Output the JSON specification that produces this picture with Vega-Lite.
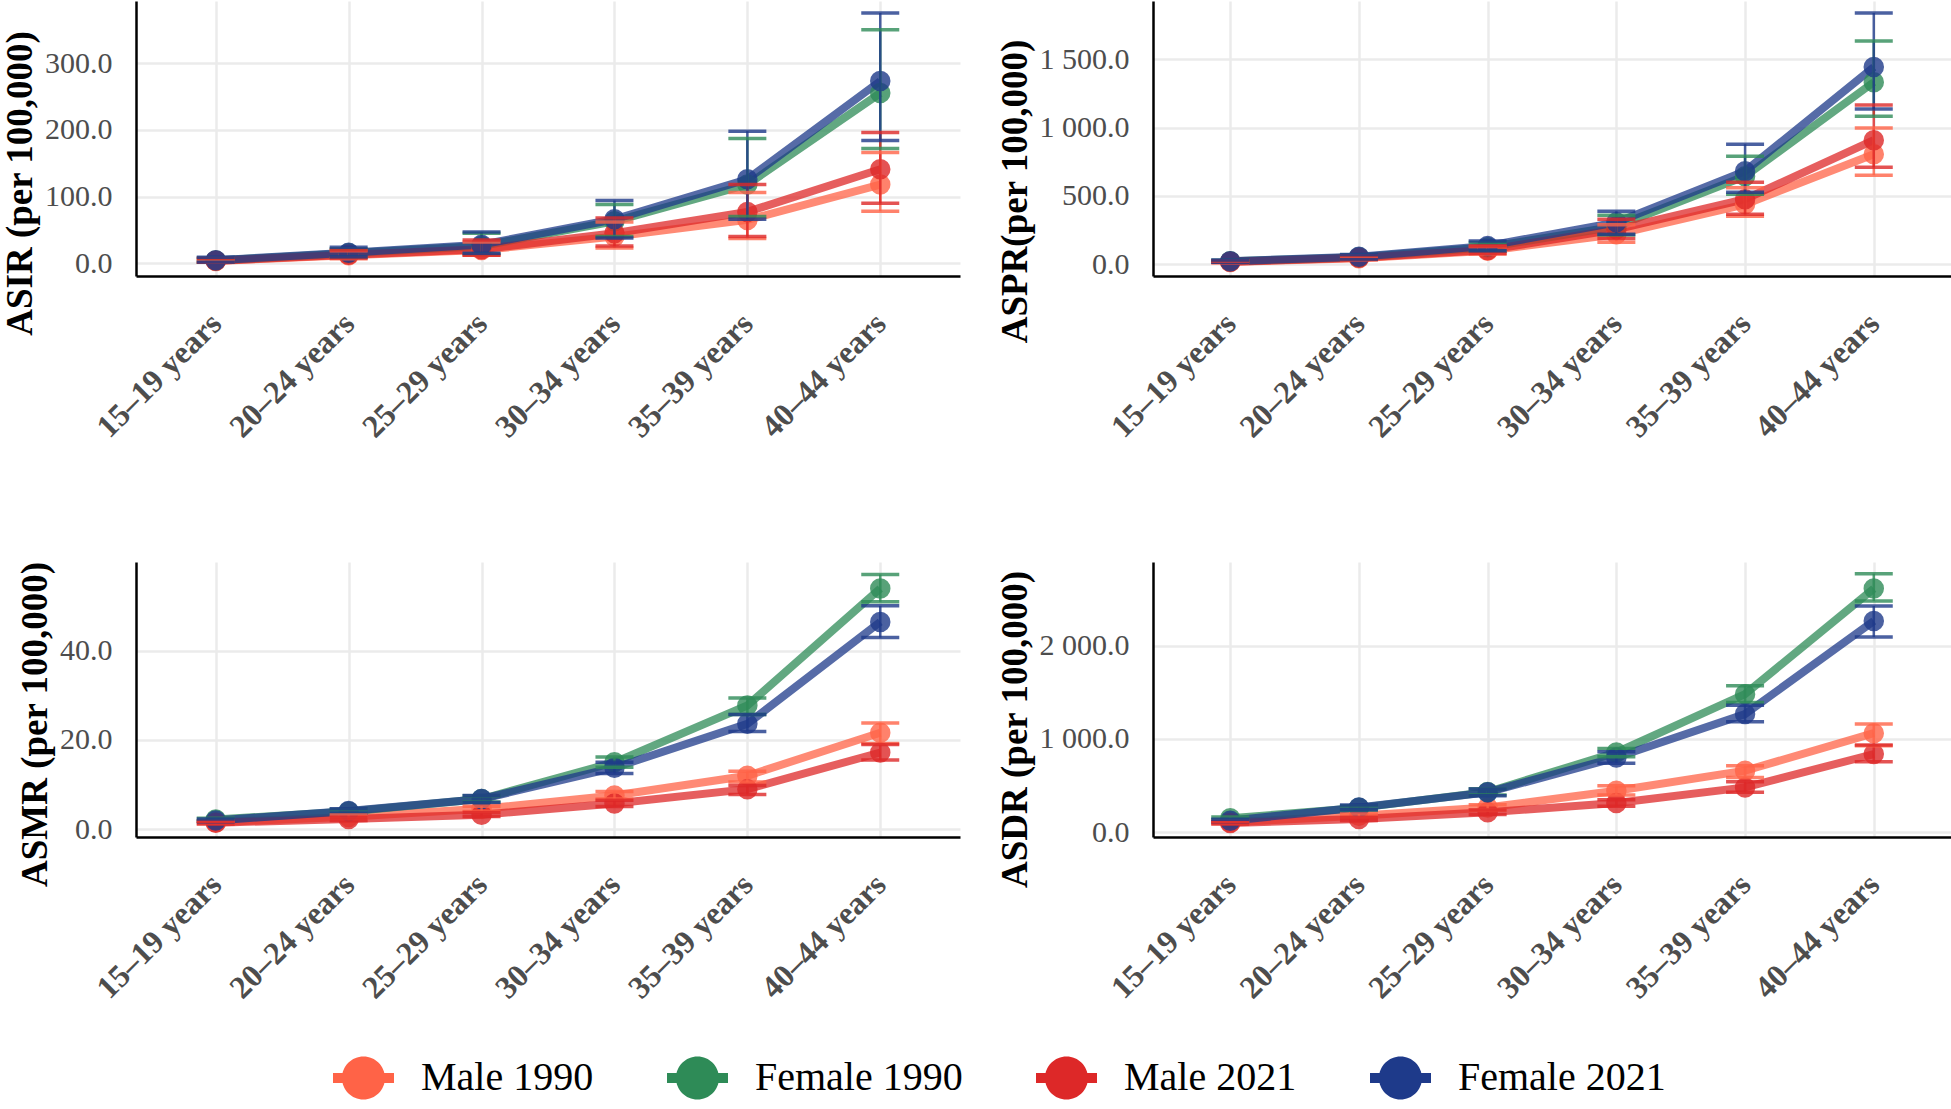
{
  "$schema": "https://vega.github.io/schema/vega-lite/v6.json",
  "padding": {"left": 1, "top": 1, "right": 0, "bottom": 0},
  "autosize": {"type": "pad"},
  "background": "white",
  "config": {
    "font": "Liberation Serif",
    "view": {"stroke": null},
    "locale": {"number": {"decimal": ".", "thousands": " ", "grouping": [3], "currency": ["", ""]}},
    "axis": {
      "grid": true, "gridColor": "#ebebeb", "gridWidth": 2.5,
      "ticks": false,
      "domainColor": "black", "domainWidth": 2.5,
      "labelFont": "Liberation Serif", "labelColor": "#4d4d4d",
      "titleFont": "Liberation Serif", "titleColor": "black"
    },
    "axisX": {
      "labelAngle": -45, "labelAlign": "right", "labelBaseline": "middle",
      "labelFontWeight": "bold", "labelFontSize": 32, "labelPadding": 42
    },
    "axisY": {
      "labelFontSize": 30, "labelPadding": 24,
      "titleFontSize": 37, "titleFontWeight": "bold", "titlePadding": 5
    },
    "legend": {
      "labelLimit": 0
    }
  },
  "data": {"values": [
    {"m": "ASIR", "age": "15–19 years", "g": "Male 1990", "v": 3.5, "lo": 1.5, "hi": 7},
    {"m": "ASIR", "age": "20–24 years", "g": "Male 1990", "v": 12, "lo": 7, "hi": 19},
    {"m": "ASIR", "age": "25–29 years", "g": "Male 1990", "v": 20, "lo": 12, "hi": 32},
    {"m": "ASIR", "age": "30–34 years", "g": "Male 1990", "v": 40, "lo": 23, "hi": 62},
    {"m": "ASIR", "age": "35–39 years", "g": "Male 1990", "v": 65, "lo": 37, "hi": 106},
    {"m": "ASIR", "age": "40–44 years", "g": "Male 1990", "v": 118, "lo": 78, "hi": 166},
    {"m": "ASIR", "age": "15–19 years", "g": "Female 1990", "v": 4.2, "lo": 1.8, "hi": 8},
    {"m": "ASIR", "age": "20–24 years", "g": "Female 1990", "v": 15, "lo": 9, "hi": 22},
    {"m": "ASIR", "age": "25–29 years", "g": "Female 1990", "v": 26, "lo": 14, "hi": 45},
    {"m": "ASIR", "age": "30–34 years", "g": "Female 1990", "v": 63, "lo": 40, "hi": 88},
    {"m": "ASIR", "age": "35–39 years", "g": "Female 1990", "v": 118, "lo": 70, "hi": 187},
    {"m": "ASIR", "age": "40–44 years", "g": "Female 1990", "v": 255, "lo": 172, "hi": 350},
    {"m": "ASIR", "age": "15–19 years", "g": "Male 2021", "v": 3.8, "lo": 1.6, "hi": 7.5},
    {"m": "ASIR", "age": "20–24 years", "g": "Male 2021", "v": 13, "lo": 8, "hi": 20},
    {"m": "ASIR", "age": "25–29 years", "g": "Male 2021", "v": 21, "lo": 12, "hi": 35},
    {"m": "ASIR", "age": "30–34 years", "g": "Male 2021", "v": 45, "lo": 26, "hi": 68},
    {"m": "ASIR", "age": "35–39 years", "g": "Male 2021", "v": 77, "lo": 40, "hi": 118},
    {"m": "ASIR", "age": "40–44 years", "g": "Male 2021", "v": 141, "lo": 90, "hi": 196},
    {"m": "ASIR", "age": "15–19 years", "g": "Female 2021", "v": 4.5, "lo": 2, "hi": 9},
    {"m": "ASIR", "age": "20–24 years", "g": "Female 2021", "v": 16, "lo": 10, "hi": 24},
    {"m": "ASIR", "age": "25–29 years", "g": "Female 2021", "v": 28, "lo": 15, "hi": 47},
    {"m": "ASIR", "age": "30–34 years", "g": "Female 2021", "v": 66, "lo": 38, "hi": 94},
    {"m": "ASIR", "age": "35–39 years", "g": "Female 2021", "v": 126, "lo": 66, "hi": 198},
    {"m": "ASIR", "age": "40–44 years", "g": "Female 2021", "v": 273, "lo": 184, "hi": 375},

    {"m": "ASPR", "age": "15–19 years", "g": "Male 1990", "v": 18, "lo": 12, "hi": 26},
    {"m": "ASPR", "age": "20–24 years", "g": "Male 1990", "v": 45, "lo": 33, "hi": 60},
    {"m": "ASPR", "age": "25–29 years", "g": "Male 1990", "v": 100, "lo": 75, "hi": 130},
    {"m": "ASPR", "age": "30–34 years", "g": "Male 1990", "v": 220, "lo": 161, "hi": 290},
    {"m": "ASPR", "age": "35–39 years", "g": "Male 1990", "v": 439, "lo": 351, "hi": 560},
    {"m": "ASPR", "age": "40–44 years", "g": "Male 1990", "v": 805, "lo": 652, "hi": 996},
    {"m": "ASPR", "age": "15–19 years", "g": "Female 1990", "v": 22, "lo": 15, "hi": 30},
    {"m": "ASPR", "age": "20–24 years", "g": "Female 1990", "v": 52, "lo": 38, "hi": 68},
    {"m": "ASPR", "age": "25–29 years", "g": "Female 1990", "v": 125, "lo": 95, "hi": 160},
    {"m": "ASPR", "age": "30–34 years", "g": "Female 1990", "v": 278, "lo": 215, "hi": 359},
    {"m": "ASPR", "age": "35–39 years", "g": "Female 1990", "v": 644, "lo": 512, "hi": 790},
    {"m": "ASPR", "age": "40–44 years", "g": "Female 1990", "v": 1332, "lo": 1083, "hi": 1632},
    {"m": "ASPR", "age": "15–19 years", "g": "Male 2021", "v": 19, "lo": 13, "hi": 27},
    {"m": "ASPR", "age": "20–24 years", "g": "Male 2021", "v": 48, "lo": 35, "hi": 63},
    {"m": "ASPR", "age": "25–29 years", "g": "Male 2021", "v": 105, "lo": 80, "hi": 135},
    {"m": "ASPR", "age": "30–34 years", "g": "Male 2021", "v": 256, "lo": 190, "hi": 330},
    {"m": "ASPR", "age": "35–39 years", "g": "Male 2021", "v": 476, "lo": 366, "hi": 600},
    {"m": "ASPR", "age": "40–44 years", "g": "Male 2021", "v": 908, "lo": 710, "hi": 1164},
    {"m": "ASPR", "age": "15–19 years", "g": "Female 2021", "v": 23, "lo": 16, "hi": 32},
    {"m": "ASPR", "age": "20–24 years", "g": "Female 2021", "v": 55, "lo": 40, "hi": 72},
    {"m": "ASPR", "age": "25–29 years", "g": "Female 2021", "v": 135, "lo": 100, "hi": 170},
    {"m": "ASPR", "age": "30–34 years", "g": "Female 2021", "v": 307, "lo": 220, "hi": 388},
    {"m": "ASPR", "age": "35–39 years", "g": "Female 2021", "v": 681, "lo": 527, "hi": 878},
    {"m": "ASPR", "age": "40–44 years", "g": "Female 2021", "v": 1442, "lo": 1135, "hi": 1837},

    {"m": "ASMR", "age": "15–19 years", "g": "Male 1990", "v": 1.6, "lo": 1.3, "hi": 1.9},
    {"m": "ASMR", "age": "20–24 years", "g": "Male 1990", "v": 2.8, "lo": 2.4, "hi": 3.2},
    {"m": "ASMR", "age": "25–29 years", "g": "Male 1990", "v": 4.6, "lo": 4.0, "hi": 5.2},
    {"m": "ASMR", "age": "30–34 years", "g": "Male 1990", "v": 7.6, "lo": 6.8, "hi": 8.5},
    {"m": "ASMR", "age": "35–39 years", "g": "Male 1990", "v": 12.0, "lo": 10.6, "hi": 13.0},
    {"m": "ASMR", "age": "40–44 years", "g": "Male 1990", "v": 21.6, "lo": 19.2, "hi": 23.8},
    {"m": "ASMR", "age": "15–19 years", "g": "Female 1990", "v": 2.2, "lo": 1.9, "hi": 2.5},
    {"m": "ASMR", "age": "20–24 years", "g": "Female 1990", "v": 4.0, "lo": 3.6, "hi": 4.5},
    {"m": "ASMR", "age": "25–29 years", "g": "Female 1990", "v": 6.8, "lo": 6.1, "hi": 7.5},
    {"m": "ASMR", "age": "30–34 years", "g": "Female 1990", "v": 15.0, "lo": 13.9, "hi": 16.2},
    {"m": "ASMR", "age": "35–39 years", "g": "Female 1990", "v": 27.7, "lo": 25.7, "hi": 29.4},
    {"m": "ASMR", "age": "40–44 years", "g": "Female 1990", "v": 53.9, "lo": 50.9, "hi": 57.0},
    {"m": "ASMR", "age": "15–19 years", "g": "Male 2021", "v": 1.5, "lo": 1.2, "hi": 1.8},
    {"m": "ASMR", "age": "20–24 years", "g": "Male 2021", "v": 2.3, "lo": 2.0, "hi": 2.7},
    {"m": "ASMR", "age": "25–29 years", "g": "Male 2021", "v": 3.3, "lo": 2.9, "hi": 3.8},
    {"m": "ASMR", "age": "30–34 years", "g": "Male 2021", "v": 5.8, "lo": 5.1, "hi": 6.5},
    {"m": "ASMR", "age": "35–39 years", "g": "Male 2021", "v": 9.0, "lo": 7.8, "hi": 9.8},
    {"m": "ASMR", "age": "40–44 years", "g": "Male 2021", "v": 17.2, "lo": 15.5, "hi": 19.0},
    {"m": "ASMR", "age": "15–19 years", "g": "Female 2021", "v": 2.0, "lo": 1.7, "hi": 2.3},
    {"m": "ASMR", "age": "20–24 years", "g": "Female 2021", "v": 4.1, "lo": 3.6, "hi": 4.6},
    {"m": "ASMR", "age": "25–29 years", "g": "Female 2021", "v": 6.8, "lo": 6.0, "hi": 7.6},
    {"m": "ASMR", "age": "30–34 years", "g": "Female 2021", "v": 13.8, "lo": 12.5, "hi": 15.0},
    {"m": "ASMR", "age": "35–39 years", "g": "Female 2021", "v": 23.6, "lo": 21.9, "hi": 25.7},
    {"m": "ASMR", "age": "40–44 years", "g": "Female 2021", "v": 46.4, "lo": 42.9, "hi": 50.0},

    {"m": "ASDR", "age": "15–19 years", "g": "Male 1990", "v": 107, "lo": 95, "hi": 120},
    {"m": "ASDR", "age": "20–24 years", "g": "Male 1990", "v": 178, "lo": 160, "hi": 197},
    {"m": "ASDR", "age": "25–29 years", "g": "Male 1990", "v": 267, "lo": 240, "hi": 296},
    {"m": "ASDR", "age": "30–34 years", "g": "Male 1990", "v": 446, "lo": 400, "hi": 499},
    {"m": "ASDR", "age": "35–39 years", "g": "Male 1990", "v": 660, "lo": 588, "hi": 713},
    {"m": "ASDR", "age": "40–44 years", "g": "Male 1990", "v": 1062, "lo": 927, "hi": 1159},
    {"m": "ASDR", "age": "15–19 years", "g": "Female 1990", "v": 150, "lo": 135, "hi": 165},
    {"m": "ASDR", "age": "20–24 years", "g": "Female 1990", "v": 262, "lo": 240, "hi": 285},
    {"m": "ASDR", "age": "25–29 years", "g": "Female 1990", "v": 432, "lo": 400, "hi": 466},
    {"m": "ASDR", "age": "30–34 years", "g": "Female 1990", "v": 856, "lo": 810, "hi": 898},
    {"m": "ASDR", "age": "35–39 years", "g": "Female 1990", "v": 1480, "lo": 1390, "hi": 1569},
    {"m": "ASDR", "age": "40–44 years", "g": "Female 1990", "v": 2610, "lo": 2478, "hi": 2770},
    {"m": "ASDR", "age": "15–19 years", "g": "Male 2021", "v": 100, "lo": 88, "hi": 112},
    {"m": "ASDR", "age": "20–24 years", "g": "Male 2021", "v": 143, "lo": 128, "hi": 160},
    {"m": "ASDR", "age": "25–29 years", "g": "Male 2021", "v": 214, "lo": 192, "hi": 238},
    {"m": "ASDR", "age": "30–34 years", "g": "Male 2021", "v": 314, "lo": 280, "hi": 350},
    {"m": "ASDR", "age": "35–39 years", "g": "Male 2021", "v": 481, "lo": 428, "hi": 542},
    {"m": "ASDR", "age": "40–44 years", "g": "Male 2021", "v": 838, "lo": 756, "hi": 934},
    {"m": "ASDR", "age": "15–19 years", "g": "Female 2021", "v": 125, "lo": 112, "hi": 140},
    {"m": "ASDR", "age": "20–24 years", "g": "Female 2021", "v": 267, "lo": 243, "hi": 292},
    {"m": "ASDR", "age": "25–29 years", "g": "Female 2021", "v": 428, "lo": 392, "hi": 465},
    {"m": "ASDR", "age": "30–34 years", "g": "Female 2021", "v": 802, "lo": 741, "hi": 862},
    {"m": "ASDR", "age": "35–39 years", "g": "Female 2021", "v": 1266, "lo": 1184, "hi": 1362},
    {"m": "ASDR", "age": "40–44 years", "g": "Female 2021", "v": 2264, "lo": 2093, "hi": 2424}
  ]},
  "columns": 2,
  "bounds": "flush",
  "spacing": {"row": 286, "column": 193},
  "resolve": {"scale": {"x": "independent", "y": "independent"}},
  "concat": [
    {
      "width": 824, "height": 275,
      "transform": [{"filter": "datum.m === 'ASIR'"}],
      "encoding": {
        "x": {"field": "age", "type": "ordinal", "sort": null, "title": null, "scale": {"type": "point", "padding": 0.6}},
        "color": {"field": "g", "type": "nominal",
          "scale": {"domain": ["Male 1990", "Female 1990", "Male 2021", "Female 2021"], "range": ["#FF6347", "#2E8B57", "#DD2828", "#1E3A8A"]},
          "legend": {"orient": "none", "legendX": 197, "legendY": 1046, "direction": "horizontal", "title": null,
            "labelFontSize": 40, "labelColor": "black", "labelFont": "Liberation Serif", "labelOffset": 27, "columnPadding": 73, "labelLimit": 0,
            "symbolType": "M-1,-0.164L1,-0.164L1,0.164L-1,0.164Z M0.705,0A0.705,0.705 0 1,1 -0.705,0A0.705,0.705 0 1,1 0.705,0Z",
            "symbolSize": 3721, "symbolStrokeWidth": 0, "symbolOpacity": 1}}
      },
      "layer": [
        {"mark": {"type": "line", "strokeWidth": 8, "opacity": 0.75},
         "encoding": {"y": {"field": "v", "type": "quantitative", "title": "ASIR (per 100,000)",
           "scale": {"domain": [-19, 393], "nice": false, "zero": false},
           "axis": {"values": [0, 100, 200, 300], "format": ",.1f", "titleY": 182}}}},
        {"mark": {"type": "circle", "size": 420, "opacity": 0.8},
         "encoding": {"y": {"field": "v", "type": "quantitative", "title": "ASIR (per 100,000)"}}},
        {"mark": {"type": "rule", "strokeWidth": 2.5, "opacity": 0.8},
         "encoding": {"y": {"field": "lo", "type": "quantitative", "title": "ASIR (per 100,000)"}, "y2": {"field": "hi"}}},
        {"mark": {"type": "tick", "size": 38, "thickness": 3.5, "opacity": 0.8},
         "encoding": {"y": {"field": "lo", "type": "quantitative", "title": "ASIR (per 100,000)"}}},
        {"mark": {"type": "tick", "size": 38, "thickness": 3.5, "opacity": 0.8},
         "encoding": {"y": {"field": "hi", "type": "quantitative", "title": "ASIR (per 100,000)"}}}
      ]
    },
    {
      "width": 798, "height": 275,
      "transform": [{"filter": "datum.m === 'ASPR'"}],
      "encoding": {
        "x": {"field": "age", "type": "ordinal", "sort": null, "title": null, "scale": {"type": "point", "padding": 0.6}},
        "color": {"field": "g", "type": "nominal",
          "scale": {"domain": ["Male 1990", "Female 1990", "Male 2021", "Female 2021"], "range": ["#FF6347", "#2E8B57", "#DD2828", "#1E3A8A"]},
          "legend": {"orient": "none", "legendX": 197, "legendY": 1046, "direction": "horizontal", "title": null,
            "labelFontSize": 40, "labelColor": "black", "labelFont": "Liberation Serif", "labelOffset": 27, "columnPadding": 73, "labelLimit": 0,
            "symbolType": "M-1,-0.164L1,-0.164L1,0.164L-1,0.164Z M0.705,0A0.705,0.705 0 1,1 -0.705,0A0.705,0.705 0 1,1 0.705,0Z",
            "symbolSize": 3721, "symbolStrokeWidth": 0, "symbolOpacity": 1}}
      },
      "layer": [
        {"mark": {"type": "line", "strokeWidth": 8, "opacity": 0.75},
         "encoding": {"y": {"field": "v", "type": "quantitative", "title": "ASPR(per 100,000)",
           "scale": {"domain": [-85, 1925], "nice": false, "zero": false},
           "axis": {"values": [0, 500, 1000, 1500], "format": ",.1f", "titleY": 190}}}},
        {"mark": {"type": "circle", "size": 420, "opacity": 0.8},
         "encoding": {"y": {"field": "v", "type": "quantitative", "title": "ASPR(per 100,000)"}}},
        {"mark": {"type": "rule", "strokeWidth": 2.5, "opacity": 0.8},
         "encoding": {"y": {"field": "lo", "type": "quantitative", "title": "ASPR(per 100,000)"}, "y2": {"field": "hi"}}},
        {"mark": {"type": "tick", "size": 38, "thickness": 3.5, "opacity": 0.8},
         "encoding": {"y": {"field": "lo", "type": "quantitative", "title": "ASPR(per 100,000)"}}},
        {"mark": {"type": "tick", "size": 38, "thickness": 3.5, "opacity": 0.8},
         "encoding": {"y": {"field": "hi", "type": "quantitative", "title": "ASPR(per 100,000)"}}}
      ]
    },
    {
      "width": 824, "height": 275,
      "transform": [{"filter": "datum.m === 'ASMR'"}],
      "encoding": {
        "x": {"field": "age", "type": "ordinal", "sort": null, "title": null, "scale": {"type": "point", "padding": 0.6}},
        "color": {"field": "g", "type": "nominal",
          "scale": {"domain": ["Male 1990", "Female 1990", "Male 2021", "Female 2021"], "range": ["#FF6347", "#2E8B57", "#DD2828", "#1E3A8A"]},
          "legend": {"orient": "none", "legendX": 197, "legendY": 1046, "direction": "horizontal", "title": null,
            "labelFontSize": 40, "labelColor": "black", "labelFont": "Liberation Serif", "labelOffset": 27, "columnPadding": 73, "labelLimit": 0,
            "symbolType": "M-1,-0.164L1,-0.164L1,0.164L-1,0.164Z M0.705,0A0.705,0.705 0 1,1 -0.705,0A0.705,0.705 0 1,1 0.705,0Z",
            "symbolSize": 3721, "symbolStrokeWidth": 0, "symbolOpacity": 1}}
      },
      "layer": [
        {"mark": {"type": "line", "strokeWidth": 8, "opacity": 0.75},
         "encoding": {"y": {"field": "v", "type": "quantitative", "title": "ASMR (per 100,000)",
           "scale": {"domain": [-1.7, 59.8], "nice": false, "zero": false},
           "axis": {"values": [0, 20, 40], "format": ",.1f", "titleY": 162}}}},
        {"mark": {"type": "circle", "size": 420, "opacity": 0.8},
         "encoding": {"y": {"field": "v", "type": "quantitative", "title": "ASMR (per 100,000)"}}},
        {"mark": {"type": "rule", "strokeWidth": 2.5, "opacity": 0.8},
         "encoding": {"y": {"field": "lo", "type": "quantitative", "title": "ASMR (per 100,000)"}, "y2": {"field": "hi"}}},
        {"mark": {"type": "tick", "size": 38, "thickness": 3.5, "opacity": 0.8},
         "encoding": {"y": {"field": "lo", "type": "quantitative", "title": "ASMR (per 100,000)"}}},
        {"mark": {"type": "tick", "size": 38, "thickness": 3.5, "opacity": 0.8},
         "encoding": {"y": {"field": "hi", "type": "quantitative", "title": "ASMR (per 100,000)"}}}
      ]
    },
    {
      "width": 798, "height": 275,
      "transform": [{"filter": "datum.m === 'ASDR'"}],
      "encoding": {
        "x": {"field": "age", "type": "ordinal", "sort": null, "title": null, "scale": {"type": "point", "padding": 0.6}},
        "color": {"field": "g", "type": "nominal",
          "scale": {"domain": ["Male 1990", "Female 1990", "Male 2021", "Female 2021"], "range": ["#FF6347", "#2E8B57", "#DD2828", "#1E3A8A"]},
          "legend": {"orient": "none", "legendX": 197, "legendY": 1046, "direction": "horizontal", "title": null,
            "labelFontSize": 40, "labelColor": "black", "labelFont": "Liberation Serif", "labelOffset": 27, "columnPadding": 73, "labelLimit": 0,
            "symbolType": "M-1,-0.164L1,-0.164L1,0.164L-1,0.164Z M0.705,0A0.705,0.705 0 1,1 -0.705,0A0.705,0.705 0 1,1 0.705,0Z",
            "symbolSize": 3721, "symbolStrokeWidth": 0, "symbolOpacity": 1}}
      },
      "layer": [
        {"mark": {"type": "line", "strokeWidth": 8, "opacity": 0.75},
         "encoding": {"y": {"field": "v", "type": "quantitative", "title": "ASDR (per 100,000)",
           "scale": {"domain": [-50, 2895], "nice": false, "zero": false},
           "axis": {"values": [0, 1000, 2000], "format": ",.1f", "titleY": 167}}}},
        {"mark": {"type": "circle", "size": 420, "opacity": 0.8},
         "encoding": {"y": {"field": "v", "type": "quantitative", "title": "ASDR (per 100,000)"}}},
        {"mark": {"type": "rule", "strokeWidth": 2.5, "opacity": 0.8},
         "encoding": {"y": {"field": "lo", "type": "quantitative", "title": "ASDR (per 100,000)"}, "y2": {"field": "hi"}}},
        {"mark": {"type": "tick", "size": 38, "thickness": 3.5, "opacity": 0.8},
         "encoding": {"y": {"field": "lo", "type": "quantitative", "title": "ASDR (per 100,000)"}}},
        {"mark": {"type": "tick", "size": 38, "thickness": 3.5, "opacity": 0.8},
         "encoding": {"y": {"field": "hi", "type": "quantitative", "title": "ASDR (per 100,000)"}}}
      ]
    }
  ]
}
